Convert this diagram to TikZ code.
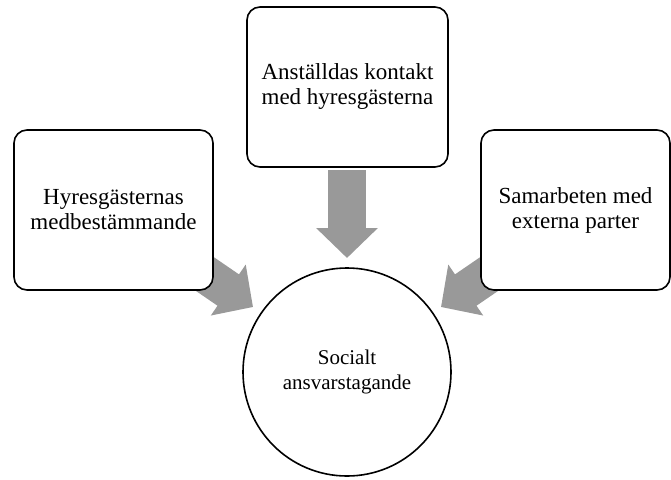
\documentclass[tikz,border=0pt]{standalone}
\usepackage{fontspec}
\setmainfont{Liberation Serif}
\usetikzlibrary{arrows.meta,backgrounds}
\begin{document}
\begin{tikzpicture}[x=1pt,y=-1pt,
  box/.style={draw=black,line width=1.6pt,rounded corners=13pt,fill=white,
    align=center,inner sep=0pt,font=\fontsize{23}{25}\selectfont},
  hub/.style={draw=black,line width=1.6pt,circle,fill=white,minimum size=208pt,
    align=center,inner sep=0pt,font=\fontsize{21}{25}\selectfont},
  blockarrow/.style={draw=black!40,line width=38pt,line cap=butt,
    -{Triangle[length=30pt,width=60pt]}}]
\useasboundingbox (0,0) rectangle (671,479);
\node[box,minimum width=201pt,minimum height=160pt] (top) at (347.5,87) {Anställdas kontakt\\med hyresgästerna};
\node[box,minimum width=199pt,minimum height=160pt] (left) at (113.5,210) {Hyresgästernas\\medbestämmande};
\node[box,minimum width=189pt,minimum height=160pt] (right) at (575.5,210) {Samarbeten med\\externa parter};
\node[hub] (hub) at (347,372) {Socialt\\ansvarstagande};
\coordinate (ttail) at (347,170);
\coordinate (ttip) at (347,258);
\coordinate (ltail) at (180,257);
\coordinate (ltip) at (253,307);
\coordinate (rtail) at (514,257);
\coordinate (rtip) at (441,307);
\begin{scope}[on background layer]
\draw[blockarrow] (ttail) -- (ttip);
\draw[blockarrow] (ltail) -- (ltip);
\draw[blockarrow] (rtail) -- (rtip);
\end{scope}
\end{tikzpicture}
\end{document}
